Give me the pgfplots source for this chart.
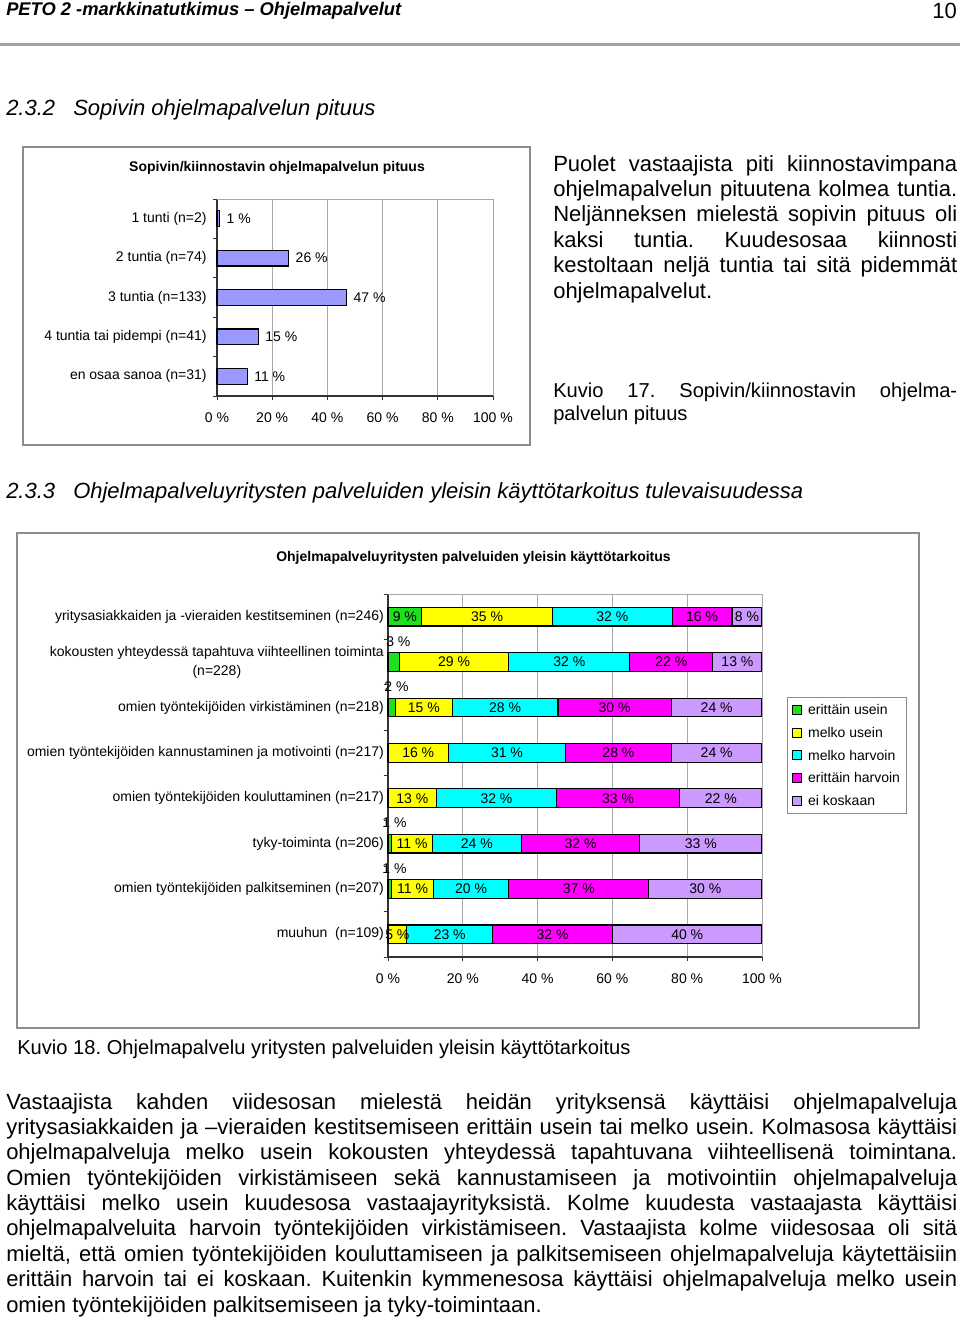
\documentclass[border=0pt]{standalone}
\usepackage{fontspec}
\setmainfont{Liberation Sans}
\usepackage{pgfplots}
\pgfplotsset{compat=1.18}
\usepackage{pgfplotstable}

\definecolor{barblue}{HTML}{9999FF}
\definecolor{cgreen}{HTML}{1EE01E}
\definecolor{cyellow}{HTML}{FFFF00}
\definecolor{ccyan}{HTML}{00FFFF}
\definecolor{cmag}{HTML}{FF00FF}
\definecolor{clav}{HTML}{CC99FF}
\definecolor{boxgray}{HTML}{8C8C8C}
\definecolor{gridgray}{HTML}{A8A8A8}
\definecolor{rulegray}{HTML}{A0A0A0}

\newcommand\chartfont{\fontsize{10.5pt}{14.25pt}\selectfont}
\newcommand\bodyfont{\fontsize{16.5pt}{19pt}\selectfont}
\newcommand\capfont{\fontsize{15.1pt}{17pt}\selectfont}

\pgfplotstableread{
y v
0 1
1 26
2 47
3 15
4 11
}\tabA

\pgfplotstableread{
y a b c d e
0 9 35 32 16 8
1 3 29 32 22 13
2 2 15 28 30 24
3 0 16 31 28 24
4 0 13 32 33 22
5 1 11 24 32 33
6 1 11 20 37 30
7 0 5 23 32 40
}\tabB
\pgfplotstablecreatecol[create col/expr={\thisrow{a}+\thisrow{b}+\thisrow{c}+\thisrow{d}+\thisrow{e}}]{s}\tabB

\begin{document}
\frenchspacing
\begin{tikzpicture}
\useasboundingbox (0,0) rectangle (720pt,-990pt);
\fill[white] (0,0) rectangle (720pt,-990pt);
\begin{scope}[x=0.75pt,y=-0.75pt]
% header
\node[anchor=base west, inner sep=0pt, font=\fontsize{13.75pt}{16pt}\selectfont\bfseries\itshape] at (6,16) {PETO 2 -markkinatutkimus – Ohjelmapalvelut};
\node[anchor=base east, inner sep=0pt, font=\bodyfont] at (957,18.3) {10};
\draw[rulegray, line width=2.25pt] (0,44.2) -- (960,44.2);
% heading 2.3.2
\node[anchor=base west, inner sep=0pt, font=\bodyfont\itshape] at (6,115) {2.3.2};
\node[anchor=base west, inner sep=0pt, font=\bodyfont\itshape] at (73,115) {Sopivin ohjelmapalvelun pituus};
% chart 1 box and title
\draw[boxgray, line width=1.1pt] (23,147) rectangle (530,445);
\node[anchor=base, inner sep=0pt, font=\chartfont\bfseries] at (277,171) {Sopivin/kiinnostavin ohjelmapalvelun pituus};
% right paragraph
\node[anchor=base west, inner sep=0pt, font=\bodyfont] at (553,171) {\makebox[303pt][s]{Puolet vastaajista piti kiinnostavimpana}};
\node[anchor=base west, inner sep=0pt, font=\bodyfont] at (553,196.4) {\makebox[303pt][s]{ohjelmapalvelun pituutena kolmea tuntia.}};
\node[anchor=base west, inner sep=0pt, font=\bodyfont] at (553,221.8) {\makebox[303pt][s]{Neljänneksen mielestä sopivin pituus oli}};
\node[anchor=base west, inner sep=0pt, font=\bodyfont] at (553,247.2) {\makebox[303pt][s]{kaksi tuntia. Kuudesosaa kiinnosti}};
\node[anchor=base west, inner sep=0pt, font=\bodyfont] at (553,272.6) {\makebox[303pt][s]{kestoltaan neljä tuntia tai sitä pidemmät}};
\node[anchor=base west, inner sep=0pt, font=\bodyfont] at (553,298) {ohjelmapalvelut.};
% caption 17
\node[anchor=base west, inner sep=0pt, font=\capfont] at (553,397) {\makebox[303pt][s]{Kuvio 17. Sopivin/kiinnostavin ohjelma-}};
\node[anchor=base west, inner sep=0pt, font=\capfont] at (553,420) {palvelun pituus};
% heading 2.3.3
\node[anchor=base west, inner sep=0pt, font=\bodyfont\itshape] at (6,498) {2.3.3};
\node[anchor=base west, inner sep=0pt, font=\bodyfont\itshape] at (73,498) {Ohjelmapalveluyritysten palveluiden yleisin käyttötarkoitus tulevaisuudessa};
% chart 2 box and title
\draw[boxgray, line width=1.1pt] (17,533) rectangle (919,1028);
\node[anchor=base, inner sep=0pt, font=\chartfont\bfseries] at (473.5,561) {Ohjelmapalveluyritysten palveluiden yleisin käyttötarkoitus};
% caption 18
\node[anchor=base west, inner sep=0pt, font=\capfont] at (17,1054) {Kuvio 18. Ohjelmapalvelu yritysten palveluiden yleisin käyttötarkoitus};
% body text
\node[anchor=base west, inner sep=0pt, font=\bodyfont] at (6,1109) {\makebox[713.25pt][s]{Vastaajista kahden viidesosan mielestä heidän yrityksensä käyttäisi ohjelmapalveluja}};
\node[anchor=base west, inner sep=0pt, font=\bodyfont] at (6,1134.4) {\makebox[713.25pt][s]{yritysasiakkaiden ja –vieraiden kestitsemiseen erittäin usein tai melko usein. Kolmasosa käyttäisi}};
\node[anchor=base west, inner sep=0pt, font=\bodyfont] at (6,1159.8) {\makebox[713.25pt][s]{ohjelmapalveluja melko usein kokousten yhteydessä tapahtuvana viihteellisenä toimintana.}};
\node[anchor=base west, inner sep=0pt, font=\bodyfont] at (6,1185.1) {\makebox[713.25pt][s]{Omien työntekijöiden virkistämiseen sekä kannustamiseen ja motivointiin ohjelmapalveluja}};
\node[anchor=base west, inner sep=0pt, font=\bodyfont] at (6,1210.5) {\makebox[713.25pt][s]{käyttäisi melko usein kuudesosa vastaajayrityksistä. Kolme kuudesta vastaajasta käyttäisi}};
\node[anchor=base west, inner sep=0pt, font=\bodyfont] at (6,1235.9) {\makebox[713.25pt][s]{ohjelmapalveluita harvoin työntekijöiden virkistämiseen. Vastaajista kolme viidesosaa oli sitä}};
\node[anchor=base west, inner sep=0pt, font=\bodyfont] at (6,1261.3) {\makebox[713.25pt][s]{mieltä, että omien työntekijöiden kouluttamiseen ja palkitsemiseen ohjelmapalveluja käytettäisiin}};
\node[anchor=base west, inner sep=0pt, font=\bodyfont] at (6,1286.6) {\makebox[713.25pt][s]{erittäin harvoin tai ei koskaan. Kuitenkin kymmenesosa käyttäisi ohjelmapalveluja melko usein}};
\node[anchor=base west, inner sep=0pt, font=\bodyfont] at (6,1312) {omien työntekijöiden palkitsemiseen ja tyky-toimintaan.};
\end{scope}

% ---------- chart 1 ----------
\begin{axis}[
  at={(162.75pt,-297pt)}, anchor=south west,
  scale only axis, width=207pt, height=147.75pt,
  xbar, bar width=0.4, bar shift=0pt,
  xmin=0, xmax=100, ymin=-0.5, ymax=4.5, y dir=reverse,
  axis lines*=left,
  axis line style={black!80, line width=0.8pt},
  tick align=outside,
  xtick={0,20,...,100},
  xticklabels={0 \%,20 \%,40 \%,60 \%,80 \%,100 \%},
  ytick={0,...,4},
  yticklabels={1 tunti (n=2),2 tuntia (n=74),3 tuntia (n=133),4 tuntia tai pidempi (n=41),en osaa sanoa (n=31)},
  minor ytick={-0.5,0.5,...,4.5},
  major y tick style={draw=none},
  minor y tick style={black!80, line width=0.6pt},
  major x tick style={black!80, line width=0.6pt},
  major tick length=3pt, minor tick length=3pt,
  xmajorgrids, major x grid style={gridgray, line width=0.6pt},
  tick label style={font=\chartfont},
  xticklabel style={yshift=-6pt},
  yticklabel style={xshift=-1.25pt},
  /pgf/number format/assume math mode=true,
  nodes near coords={\pgfmathprintnumber{\pgfplotspointmeta}\ \%},
  every node near coord/.append style={font=\chartfont, xshift=1.5pt},
  clip=false,
]
\draw[gridgray, line width=0.6pt] (axis description cs:0,1) -- (axis description cs:1,1) -- (axis description cs:1,0);
\addplot[fill=barblue, draw=black, line width=0.8pt] table[x=v, y=y] {\tabA};
\end{axis}

% ---------- chart 2 ----------
\begin{axis}[
  at={(291pt,-717.75pt)}, anchor=south west,
  scale only axis, width=280.5pt, height=272.25pt,
  xbar stacked, bar width=0.412,
  xmin=0, xmax=100, ymin=-0.5, ymax=7.5, y dir=reverse,
  axis lines*=left,
  axis line style={black!80, line width=0.8pt},
  tick align=outside,
  xtick={0,20,...,100},
  xticklabels={0 \%,20 \%,40 \%,60 \%,80 \%,100 \%},
  ytick={0,...,7},
  yticklabels={yritysasiakkaiden ja -vieraiden kestitseminen (n=246),kokousten yhteydessä tapahtuva viihteellinen toiminta\\(n=228),omien työntekijöiden virkistäminen (n=218),omien työntekijöiden kannustaminen ja motivointi (n=217),omien työntekijöiden kouluttaminen (n=217),tyky-toiminta (n=206),omien työntekijöiden palkitseminen (n=207),muuhun~ (n=109)},
  minor ytick={-0.5,0.5,...,7.5},
  major y tick style={draw=none},
  minor y tick style={black!80, line width=0.6pt},
  major x tick style={black!80, line width=0.6pt},
  major tick length=3pt, minor tick length=3pt,
  xmajorgrids, major x grid style={gridgray, line width=0.6pt},
  tick label style={font=\chartfont},
  xticklabel style={yshift=-6pt},
  yticklabel style={align=center, xshift=3.4pt},
  legend style={at={(1.0668,0.7163)}, anchor=north west, draw=boxgray, line width=0.6pt,
    font=\chartfont, inner xsep=3.5pt, inner ysep=1pt, row sep=0pt, column sep=3pt,
    nodes={inner xsep=1.5pt, inner ysep=2pt, text height=10pt, text depth=3pt}},
  legend cell align=left,
  legend image code/.code={\draw[#1,draw=black,line width=0.8pt] (0pt,-3.4pt) rectangle (6.8pt,3.4pt);},
  clip=false,
]
\draw[gridgray, line width=0.6pt] (axis description cs:0,1) -- (axis description cs:1,1) -- (axis description cs:1,0);
\addplot[fill=cgreen, draw=black, line width=0.9pt] table[x expr={\thisrow{a}*100/\thisrow{s}}, y=y] {\tabB};
\addplot[fill=cyellow, draw=black, line width=0.9pt] table[x expr={\thisrow{b}*100/\thisrow{s}}, y=y] {\tabB};
\addplot[fill=ccyan, draw=black, line width=0.9pt] table[x expr={\thisrow{c}*100/\thisrow{s}}, y=y] {\tabB};
\addplot[fill=cmag, draw=black, line width=0.9pt] table[x expr={\thisrow{d}*100/\thisrow{s}}, y=y] {\tabB};
\addplot[fill=clav, draw=black, line width=0.9pt] table[x expr={\thisrow{e}*100/\thisrow{s}}, y=y] {\tabB};
\legend{erittäin usein,melko usein,melko harvoin,erittäin harvoin,ei koskaan}
\end{axis}

% ---------- chart 2 labels ----------
\begin{axis}[
  at={(291pt,-717.75pt)}, anchor=south west,
  scale only axis, width=280.5pt, height=272.25pt,
  xmin=0, xmax=100, ymin=-0.5, ymax=7.5, y dir=reverse,
  hide axis, clip=false,
  /pgf/number format/assume math mode=true,
  nodes near coords={\pgfmathprintnumber{\pgfplotspointmeta}\ \%},
  every node near coord/.append style={font=\chartfont, anchor=center, inner sep=0pt},
]
\addplot[draw=none, point meta=explicit] table[x expr={\thisrow{a}<5 ? nan : \thisrow{a}/2*100/\thisrow{s}}, y=y, meta=a] {\tabB};
\addplot[draw=none, point meta=explicit, every node near coord/.append style={yshift=15.5pt, xshift=3.5pt}] table[x expr={(\thisrow{a}>0 && \thisrow{a}<5) ? \thisrow{a}/2*100/\thisrow{s} : nan}, y=y, meta=a] {\tabB};
\addplot[draw=none, point meta=explicit] table[x expr={(\thisrow{a}+\thisrow{b}/2)*100/\thisrow{s}}, y=y, meta=b] {\tabB};
\addplot[draw=none, point meta=explicit] table[x expr={(\thisrow{a}+\thisrow{b}+\thisrow{c}/2)*100/\thisrow{s}}, y=y, meta=c] {\tabB};
\addplot[draw=none, point meta=explicit] table[x expr={(\thisrow{a}+\thisrow{b}+\thisrow{c}+\thisrow{d}/2)*100/\thisrow{s}}, y=y, meta=d] {\tabB};
\addplot[draw=none, point meta=explicit] table[x expr={(\thisrow{a}+\thisrow{b}+\thisrow{c}+\thisrow{d}+\thisrow{e}/2)*100/\thisrow{s}}, y=y, meta=e] {\tabB};
\end{axis}
\end{tikzpicture}
\end{document}
